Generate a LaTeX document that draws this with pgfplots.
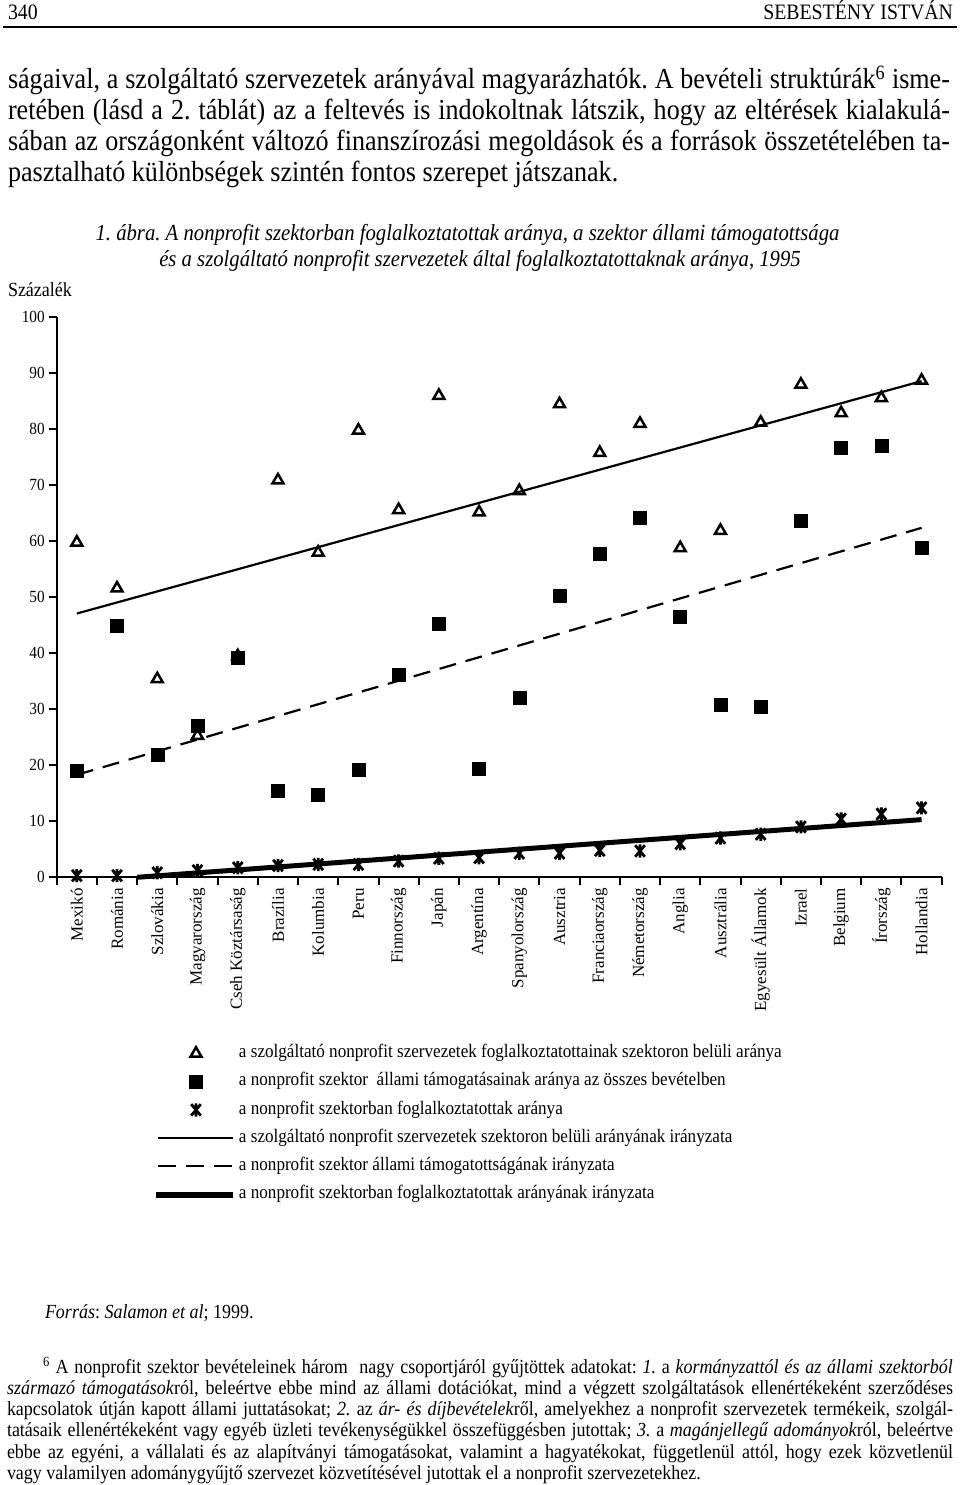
\documentclass[border=0pt]{standalone}
\usepackage{fontspec}
\setmainfont{Liberation Serif}
\newfontfamily\cond{Liberation Serif}[FakeStretch=0.9]
\usepackage{pgfplots}
\usepackage{pgfplotstable}
\pgfplotsset{compat=1.18}
\newcommand\fs[2]{\fontsize{#1bp}{#2bp}\selectfont}
\frenchspacing

% X with a vertical bar, as in the printed figure
\pgfdeclareplotmark{zhe}{%
  \pgfpathmoveto{\pgfqpoint{0pt}{0.88\pgfplotmarksize}}%
  \pgfpathlineto{\pgfqpoint{0pt}{-0.88\pgfplotmarksize}}%
  \pgfpathmoveto{\pgfqpointpolar{50}{\pgfplotmarksize}}%
  \pgfpathlineto{\pgfqpointpolar{230}{\pgfplotmarksize}}%
  \pgfpathmoveto{\pgfqpointpolar{130}{\pgfplotmarksize}}%
  \pgfpathlineto{\pgfqpointpolar{310}{\pgfplotmarksize}}%
  \pgfusepathqstroke}

% idx: country, tri: szolgaltato arany, sq: allami tamogatas, ast: foglalkoztatottak
\pgfplotstableread{
idx tri  sq   ast
0   59.8 19.1 0.3
1   51.6 44.9 0.3
2   35.4 21.9 0.8
3   25.3 27.0 1.2
4   39.5 39.2 1.7
5   70.9 15.4 2.1
6   58.0 14.7 2.3
7   79.8 19.2 2.3
8   65.6 36.1 2.9
9   86.0 45.2 3.4
10  65.2 19.4 3.5
11  69.0 32.0 4.3
12  84.5 50.3 4.3
13  75.8 57.7 4.8
14  81.0 64.2 4.7
15  58.8 46.6 6.0
16  61.9 30.9 7.0
17  81.2 30.4 7.7
18  88.0 63.7 9.0
19  82.9 76.7 10.4
20  85.6 77.0 11.3
21  88.7 58.9 12.4
}\data

\begin{document}
\begin{tikzpicture}[every node/.style={inner sep=0pt, outer sep=0pt}]

% page head
\node[anchor=base west, font=\cond\fs{22}{22}] at (8bp,1465.5bp) {340};
\node[anchor=base east, font=\cond\fs{22}{22}] at (953bp,1465.5bp) {SEBESTÉNY ISTVÁN};
\draw[line width=2bp] (3bp,1457.5bp) -- (957bp,1457.5bp);

% running text
\begin{scope}[every node/.append style={anchor=base west, font=\cond\fs{29}{29}}]
\node at (8bp,1396.5bp) {\makebox[942bp][s]{ságaival, a szolgáltató szervezetek arányával magyarázhatók. A bevételi struktúrák\textsuperscript{6} isme-}};
\node at (8bp,1365.5bp) {\makebox[942bp][s]{retében (lásd a 2. táblát) az a feltevés is indokoltnak látszik, hogy az eltérések kialakulá-}};
\node at (8bp,1334.5bp) {\makebox[942bp][s]{sában az országonként változó finanszírozási megoldások és a források összetételében ta-}};
\node at (8bp,1303.5bp) {pasztalható különbségek szintén fontos szerepet játszanak.};
\end{scope}

% caption
\node[anchor=base, font=\cond\itshape\fs{23}{23}] at (467.5bp,1244bp) {1. ábra. A nonprofit szektorban foglalkoztatottak aránya, a szektor állami támogatottsága};
\node[anchor=base, font=\cond\itshape\fs{23}{23}] at (480bp,1218bp) {és a szolgáltató nonprofit szervezetek által foglalkoztatottaknak aránya, 1995};
\node[anchor=base west, font=\cond\fs{20}{20}] at (8bp,1188bp) {Százalék};

\begin{axis}[
  at={(56.7bp,607.7bp)}, anchor=south west,
  scale only axis, width=885bp, height=560bp,
  xmin=-0.5, xmax=21.5, ymin=0, ymax=100,
  clip=false,
  axis x line*=bottom, axis y line*=left,
  axis line style={line width=2.2bp, black},
  tick align=outside,
  major tick length=8bp,
  every tick/.style={black, line width=2bp},
  ytick={0,10,...,100},
  yticklabel style={font=\cond\fs{17}{17}, inner sep=0pt, anchor=east},
  yticklabel shift=4bp,
  /pgf/number format/assume math mode=true,
  xtick={-0.5,0.5,1.5,2.5,3.5,4.5,5.5,6.5,7.5,8.5,9.5,10.5,11.5,12.5,13.5,14.5,15.5,16.5,17.5,18.5,19.5,20.5,21.5},
  xticklabels={},
  extra x ticks={0,1,...,21},
  extra x tick labels={Mexikó,Románia,Szlovákia,Magyarország,Cseh Köztársaság,Brazília,Kolumbia,Peru,Finnország,Japán,Argentína,Spanyolország,Ausztria,Franciaország,Németország,Anglia,Ausztrália,Egyesült Államok,Izrael,Belgium,Írország,Hollandia},
  extra x tick style={major tick length=0pt,
    xticklabel style={rotate=90, anchor=east, font=\fs{17}{17}, inner sep=0pt},
    xticklabel shift=11bp},
  legend style={at={(0.1088,-0.2895)}, anchor=north west, draw=none, fill=none,
    inner sep=0pt, row sep=0pt, column sep=3bp, font=\cond\fs{19}{19},
    nodes={inner sep=0pt, text height=18.2bp, text depth=10bp}},
  legend cell align=left,
]
\addplot[only marks, mark=triangle, mark size=6.3bp, mark options={line width=2.5bp, black},
  legend image code/.code={\path[draw=none] (0bp,0bp) -- (78bp,0bp); \draw plot coordinates {(40bp,0bp)};}]
  table[x=idx, y=tri] {\data};
\addlegendentry{a szolgáltató nonprofit szervezetek foglalkoztatottainak szektoron belüli aránya}
\addplot[only marks, mark=square*, mark size=6.5bp, mark options={line width=0.5bp, draw=black, fill=black},
  legend image code/.code={\path[draw=none] (0bp,0bp) -- (78bp,0bp); \draw plot coordinates {(40bp,0bp)};}]
  table[x=idx, y=sq] {\data};
\addlegendentry{a nonprofit szektor \ állami támogatásainak aránya az összes bevételben}
\addplot[only marks, mark=zhe, mark size=7.5bp, mark options={line width=2.8bp, black},
  legend image code/.code={\path[draw=none] (0bp,0bp) -- (78bp,0bp); \draw plot coordinates {(40bp,0bp)};}]
  table[x=idx, y=ast] {\data};
\addlegendentry{a nonprofit szektorban foglalkoztatottak aránya}
\addplot[black, line width=2.2bp, mark=none,
  legend image code/.code={\path[draw=none] (0bp,0bp) -- (78bp,0bp); \draw (2bp,0bp) -- (77bp,0bp);}]
  coordinates {(0,47.1) (21,88.6)};
\addlegendentry{a szolgáltató nonprofit szervezetek szektoron belüli arányának irányzata}
\addplot[black, line width=2.2bp, mark=none, dash pattern=on 17bp off 10bp,
  legend image code/.code={\path[draw=none] (0bp,0bp) -- (78bp,0bp); \draw[dash pattern=on 18bp off 10bp] (2bp,0bp) -- (76bp,0bp);}]
  coordinates {(0,18.3) (21,62.4)};
\addlegendentry{a nonprofit szektor állami támogatottságának irányzata}
\addplot[black, line width=5bp, mark=none,
  legend image code/.code={\path[draw=none] (0bp,0bp) -- (78bp,0bp); \draw[line width=6bp] (0bp,0bp) -- (77bp,0bp);}]
  coordinates {(1.5,0) (21,10.3)};
\addlegendentry{a nonprofit szektorban foglalkoztatottak arányának irányzata}
\end{axis}

% source and footnote
\node[anchor=base west, font=\cond\fs{20}{20}] at (45bp,166bp) {\textit{Forrás}: \textit{Salamon et al}; 1999.};
\begin{scope}[every node/.append style={anchor=base west, font=\cond\fs{20}{20}}]
\node at (43bp,111bp) {\makebox[910bp][s]{\textsuperscript{6} A nonprofit szektor bevételeinek három \ nagy csoportjáról gyűjtöttek adatokat: \textit{1.} a \textit{kormányzattól és az állami szektorból}}};
\node at (7bp,90bp) {\makebox[946bp][s]{\textit{származó támogatások}ról, beleértve ebbe mind az állami dotációkat, mind a végzett szolgáltatások ellenértékeként szerződéses}};
\node at (7bp,69bp) {\makebox[946bp][s]{kapcsolatok útján kapott állami juttatásokat; \textit{2.} az \textit{ár- és díjbevételek}ről, amelyekhez a nonprofit szervezetek termékeik, szolgál-}};
\node at (7bp,48bp) {\makebox[946bp][s]{tatásaik ellenértékeként vagy egyéb üzleti tevékenységükkel összefüggésben jutottak; \textit{3.} a \textit{magánjellegű adományok}ról, beleértve}};
\node at (7bp,27bp) {\makebox[946bp][s]{ebbe az egyéni, a vállalati és az alapítványi támogatásokat, valamint a hagyatékokat, függetlenül attól, hogy ezek közvetlenül}};
\node at (7bp,6bp) {vagy valamilyen adománygyűjtő szervezet közvetítésével jutottak el a nonprofit szervezetekhez.};
\end{scope}

\pgfresetboundingbox
\path (0bp,0bp) rectangle (960bp,1485bp);
\end{tikzpicture}
\end{document}
